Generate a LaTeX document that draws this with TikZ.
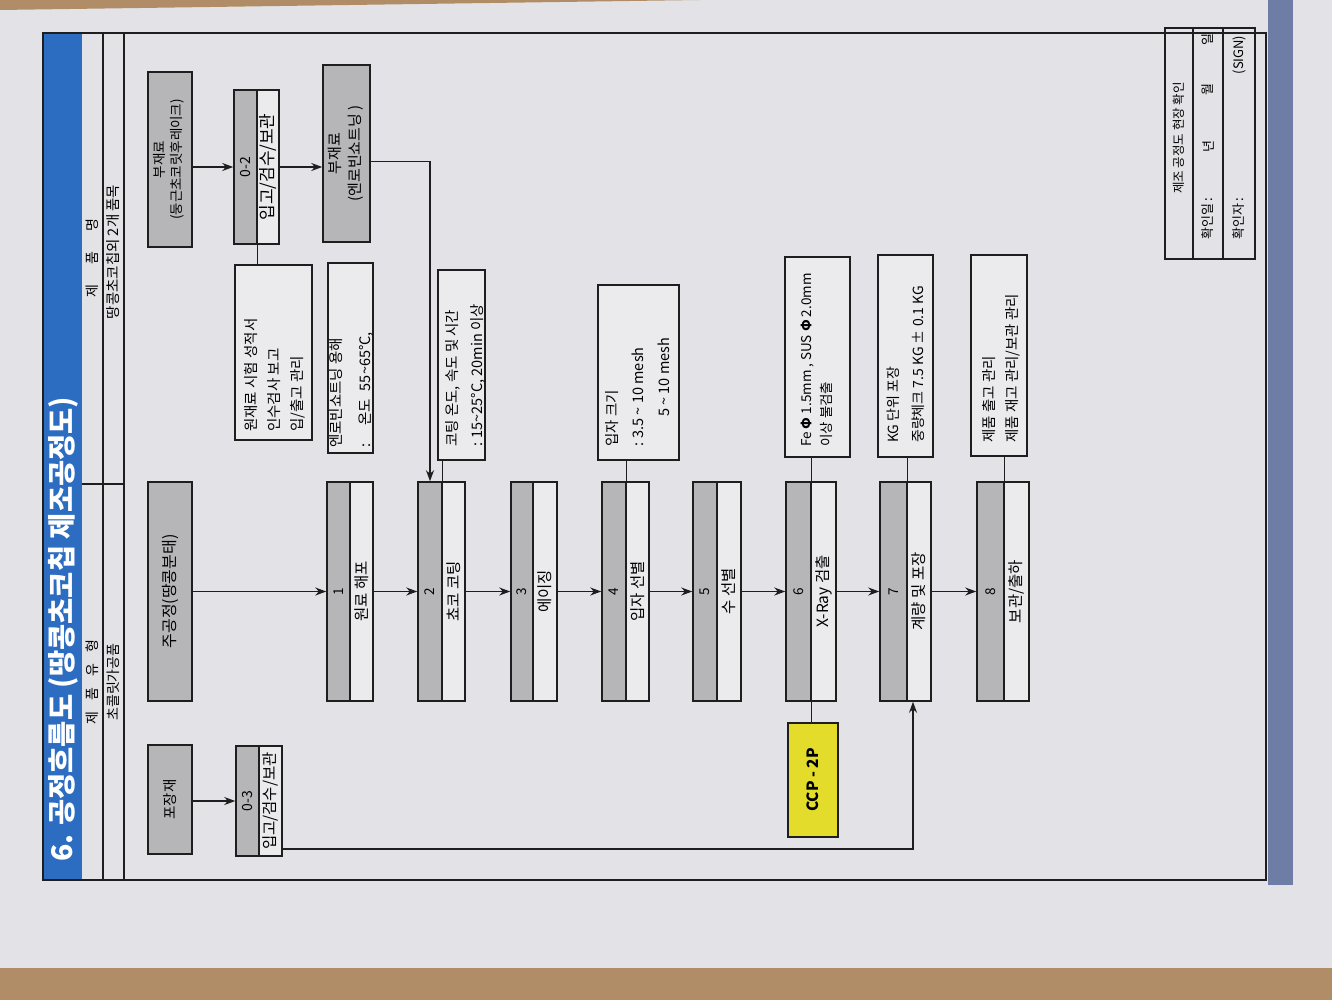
\documentclass[tikz,border=0pt]{standalone}
\usepackage{fontspec}
\usepackage{graphicx}
\setmainfont{Noto Sans CJK KR}
\usetikzlibrary{arrows.meta}
\definecolor{paper}{HTML}{E3E3E7}
\definecolor{wood}{HTML}{B08D66}
\definecolor{boxgray}{HTML}{B6B6B8}
\definecolor{boxlight}{HTML}{EBEBED}
\definecolor{titleblue}{HTML}{2C6DC2}
\definecolor{edgeblue}{HTML}{6E7DA6}
\definecolor{ink}{HTML}{1E1E1E}
\definecolor{ccpyellow}{HTML}{E3DC2A}
\newcommand\vtext[1]{\rotatebox{90}{#1}}
\newcommand\procbox[6]{%
  \node[gpart, minimum width=#3-#2] (#1g) at ({(#2+#3)/2},591.5) {\vtext{#5}};
  \node[wpart, minimum width=#4-#3] (#1w) at ({(#3+#4)/2},591.5) {\vtext{#6}};
}
\begin{document}
\begin{tikzpicture}[x=1pt,y=-1pt,
  srcbox/.style={draw=ink, line width=1.5pt, fill=boxgray, inner sep=0pt},
  gpart/.style={draw=ink, line width=1.5pt, fill=boxgray, inner sep=0pt, minimum height=219, font=\fontsize{13.5}{15}\selectfont},
  wpart/.style={draw=ink, line width=1.5pt, fill=boxlight, inner sep=0pt, minimum height=219, font=\fontsize{15.5}{17}\selectfont},
  notebox/.style={draw=ink, line width=1.2pt, fill=boxlight, inner sep=0pt},
  notetext/.style={rotate=90, anchor=west, align=left, inner sep=0pt, font=\fontsize{14.5}{#1}\selectfont},
  hdr/.style={rotate=90, inner sep=0pt, font=\fontsize{14}{16}\selectfont},
  arr/.style={draw=ink, line width=1.4pt, -{Stealth[length=11pt,width=8pt]}},
  con/.style={draw=ink, line width=1.4pt},
]
\useasboundingbox (0,0) rectangle (1332,1000);
% background
\fill[paper] (0,0) rectangle (1332,1000);
\fill[wood] (0,968) rectangle (1332,1000);
\fill[wood] (0,0) -- (700,0) -- (0,10) -- cycle;
\fill[edgeblue] (1268,0) rectangle (1293,885);
% frame
\fill[titleblue] (43,33) rectangle (82,880);
\draw[ink, line width=2pt] (43,33) rectangle (1266,880);
\draw[ink, line width=1.2pt] (103,33) -- (103,880);
\draw[ink, line width=2.2pt] (124,33) -- (124,880);
\draw[ink, line width=1.8pt] (82,484) -- (124,484);
\node[rotate=90, anchor=west, text=white, inner sep=0pt, font=\fontsize{28.5}{32}\selectfont\bfseries] (title) at (63,862) {6. 공정흐름도 (땅콩초코칩 제조공정도)};
\node[hdr] (h1) at (92.5,682) {제\hspace{11pt}품\hspace{11pt}유\hspace{11pt}형};
\node[hdr] (h2) at (113.5,682) {초콜릿가공품};
\node[hdr] (h3) at (92.5,258) {제\hspace{20pt}품\hspace{20pt}명};
\node[hdr, font=\fontsize{14.5}{16}\selectfont] (h4) at (113.5,252) {땅콩초코칩외 2개 품목};
% confirmation box
\node[draw=ink, line width=1.5pt, minimum width=90, minimum height=231, inner sep=0pt] (confirm) at (1210,143.5) {};
\draw[ink, line width=1.2pt] (1193,28) -- (1193,259);
\draw[ink, line width=1.2pt] (1223,28) -- (1223,259);
\node[hdr, font=\fontsize{12.5}{14}\selectfont] (c1) at (1179,138) {제조 공정도 현장 확인};
\node[hdr, anchor=west, font=\fontsize{13}{14}\selectfont] (c2) at (1208,240) {확인일 :};
\node[hdr, font=\fontsize{13}{14}\selectfont] (c3) at (1208,147) {년};
\node[hdr, font=\fontsize{13}{14}\selectfont] (c4) at (1208,90) {월};
\node[hdr, font=\fontsize{13}{14}\selectfont] (c5) at (1208,40) {일};
\node[hdr, anchor=west, font=\fontsize{13}{14}\selectfont] (c6) at (1239,240) {확인자 :};
\node[hdr, font=\fontsize{13}{14}\selectfont] (c7) at (1239,55) {(SIGN)};
% source boxes
\node[srcbox, minimum width=44, minimum height=175, font=\fontsize{13.5}{17}\selectfont] (sub1) at (170,159.5)
  {\vtext{\begin{tabular}{@{}c@{}}부재료\\(둥근초코릿후레이크)\end{tabular}}};
\node[srcbox, minimum width=44, minimum height=219, font=\fontsize{16}{18}\selectfont] (main) at (170,591.5) {\vtext{주공정(땅콩분태)}};
\node[srcbox, minimum width=44, minimum height=109, font=\fontsize{14.5}{17}\selectfont] (pack) at (170,799.5) {\vtext{포장재}};
\node[srcbox, minimum width=47, minimum height=177, font=\fontsize{15}{20}\selectfont] (enrobin) at (346.5,153.5)
  {\vtext{\begin{tabular}{@{}c@{}}부재료\\(엔로빈쇼트닝 )\end{tabular}}};
% receiving boxes
\node[srcbox, minimum width=23, minimum height=154, font=\fontsize{14}{16}\selectfont] (b02g) at (245.5,167) {\vtext{0-2}};
\node[srcbox, fill=boxlight, minimum width=22, minimum height=154, font=\fontsize{17}{18}\selectfont] (b02w) at (268,167) {\vtext{입고/검수/보관}};
\node[srcbox, minimum width=23, minimum height=110, font=\fontsize{14}{16}\selectfont] (b03g) at (247.5,801) {\vtext{0-3}};
\node[srcbox, fill=boxlight, minimum width=23, minimum height=110, font=\fontsize{15.5}{18}\selectfont] (b03w) at (270.5,801) {\vtext{입고/검수/보관}};
% process boxes
\procbox{p1}{327}{350}{373}{1}{원료 해포}
\procbox{p2}{418}{442}{465}{2}{쵸코 코팅}
\procbox{p3}{511}{533}{557}{3}{에이징}
\procbox{p4}{602}{626}{649}{4}{입자 선별}
\procbox{p5}{693}{717}{741}{5}{수 선별}
\procbox{p6}{786}{811}{836}{6}{X-Ray 검출}
\procbox{p7}{880}{907}{931}{7}{계량 및 포장}
\procbox{p8}{977}{1004}{1029}{8}{보관/출하}
% CCP
\node[srcbox, fill=ccpyellow, minimum width=50, minimum height=114, font=\fontsize{15.5}{17}\selectfont\bfseries] (ccp) at (813,780) {\vtext{CCP - 2P}};
% notes
\node[notebox, minimum width=77, minimum height=175] (note1) at (273.5,352.5) {};
\node[notebox, minimum width=45, minimum height=190] (note2) at (350.5,358) {};
\node[notebox, minimum width=47, minimum height=190] (note3) at (461.5,365) {};
\node[notebox, minimum width=81, minimum height=175] (note4) at (638.5,372.5) {};
\node[notebox, minimum width=65, minimum height=200] (note5) at (817.5,357) {};
\node[notebox, minimum width=55, minimum height=202] (note6) at (905.5,356) {};
\node[notebox, minimum width=56, minimum height=201] (note7) at (999,355.5) {};
\node[notetext=23] (n1t) at (275,432) {원재료 시험 성적서\\인수검사 보고\\입/출고 관리};
\node[notetext=29] (n2t) at (351,448) {엔로빈쇼트닝 용해\\:\hspace*{18pt}온도\hspace{8pt}55\textasciitilde65°C,};
\node[notetext=25] (n3t) at (465,447) {코팅 온도, 속도 및 시간\\: 15\textasciitilde25°C, 20min 이상};
\node[notetext=26] (n4t) at (638,447) {입자 크기\\: 3.5 \textasciitilde{} 10 mesh\\\hspace*{30pt}5 \textasciitilde{} 10 mesh};
\node[notetext=20, font=\fontsize{13.5}{20}\selectfont] (n5t) at (817,447) {Fe \textbf{Φ} 1.5mm , SUS \textbf{Φ} 2.0mm\\이상 불검출};
\node[notetext=25, font=\fontsize{14}{25}\selectfont] (n6t) at (905.5,443) {KG 단위 포장\\중량체크 7.5 KG ± 0.1 KG};
\node[notetext=23] (n7t) at (1001.5,443) {제품 출고 관리\\제품 재고 관리/보관 관리};
% connectors
\draw[arr] (sub1.east |- b02g.west) -- (b02g.west);
\draw[arr] (b02w.east) -- (enrobin.west |- b02w.east);
\draw[con] (b02g.south east) -- (note1.north -| b02g.south east);
\draw[arr] ([yshift=-8pt]enrobin.east) -| (p2g.north);
\draw[arr] (main.east) -- (p1g.west);
\draw[arr] (p1w.east) -- (p2g.west);
\draw[arr] (p2w.east) -- (p3g.west);
\draw[arr] (p3w.east) -- (p4g.west);
\draw[arr] (p4w.east) -- (p5g.west);
\draw[arr] (p5w.east) -- (p6g.west);
\draw[arr] (p6w.east) -- (p7g.west);
\draw[arr] (p7w.east) -- (p8g.west);
\draw[con] (note3.south -| p2g.north east) -- (p2g.north east);
\draw[con] (note4.south -| p4g.north east) -- (p4g.north east);
\draw[con] (note5.south -| p6g.north east) -- (p6g.north east);
\draw[con] (note6.south -| p7g.north east) -- (p7g.north east);
\draw[con] (note7.south -| p8g.north east) -- (p8g.north east);
\draw[con] (p6g.south east) -- (ccp.north -| p6g.south east);
\draw[arr] (pack.east |- b03g.west) -- (b03g.west);
\coordinate (turn) at (913,849);
\draw[arr] (b03w.east |- turn) -- (turn) -- (turn |- p7w.south);
\end{tikzpicture}
\end{document}
